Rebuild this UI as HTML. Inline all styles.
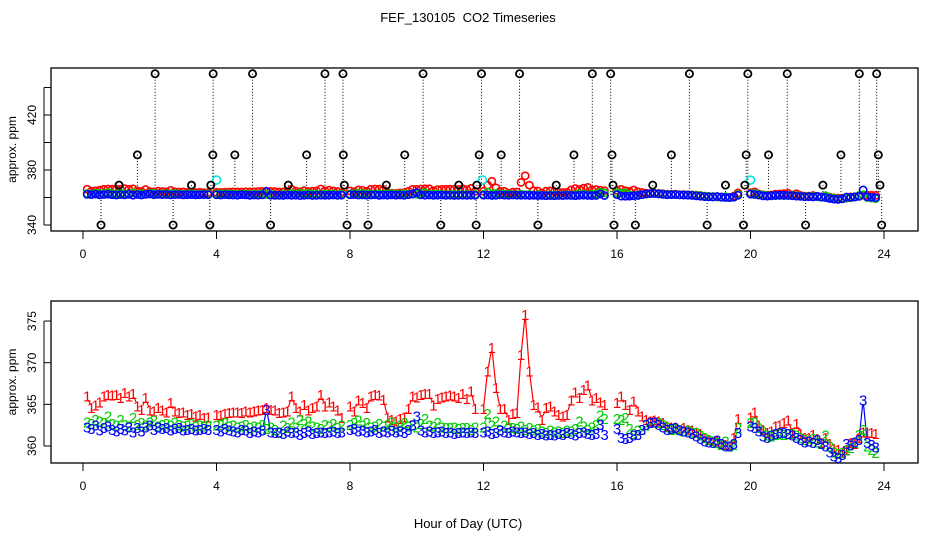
<!DOCTYPE html>
<html><head><meta charset="utf-8">
<style>
html,body{margin:0;padding:0;background:#fff;}
svg{display:block;font-family:"Liberation Sans",Arial,sans-serif;}
</style></head>
<body>
<svg id="chart" width="936" height="540" viewBox="0 0 936 540" xmlns="http://www.w3.org/2000/svg">
<rect width="936" height="540" fill="#fff"/>
<text x="468" y="22" text-anchor="middle" font-size="13">FEF_130105&#160; CO2 Timeseries</text>
<g id="topPanel"></g>
<g id="botPanel"></g>
<text x="468" y="528" text-anchor="middle" font-size="13">Hour of Day (UTC)</text>
</svg>
<script>
// ---- data ----
const segmentStarts = [0.125, 4.0, 8.0, 12.0, 16.0, 20.0];
const hourStep = 0.125;
const redSegments = [
 [366.0,364.6,364.9,365.3,366.0,366.2,366.1,366.2,365.8,366.4,366.0,366.3,364.8,364.4,365.8,364.3,364.2,364.6,364.3,364.1,365.2,364.2,364.0,364.1,363.8,363.9,363.6,363.8,363.4,363.5],
 [363.8,363.7,363.9,364.0,364.1,364.1,364.0,364.2,364.1,364.2,364.3,364.4,364.6,364.4,364.3,364.0,364.1,364.2,366.0,364.6,364.2,365.0,364.3,364.6,364.8,366.2,364.8,365.3,364.8,364.3,363.4],
 [364.8,364.2,365.5,365.2,364.6,366.0,366.2,366.1,365.6,363.5,363.2,363.0,363.3,363.5,364.5,366.0,365.9,366.2,366.3,366.3,364.9,365.7,365.9,366.0,366.1,366.0,365.8,366.3,365.7,366.6,364.5],
 [364.5,369.0,371.8,367.0,364.5,364.5,363.2,363.9,364.0,371.0,375.8,369.0,365.0,364.7,363.2,364.6,364.8,364.2,363.8,363.6,363.8,365.5,366.5,365.8,366.8,367.3,365.5,365.8,365.3,365.0],
 [365.2,366.0,365.0,364.4,365.4,364.2,363.6,363.2,363.0,363.1,363.0,362.8,362.4,362.3,362.3,362.0,362.2,362.0,361.9,361.7,361.5,361.0,360.8,360.6,360.6,360.3,360.2,360.0,361.0,363.3],
 [363.5,364.1,362.5,362.0,361.6,361.8,362.4,362.5,362.8,363.1,361.6,362.7,361.5,361.0,361.0,361.4,360.9,360.4,361.0,360.3,359.7,359.6,359.3,359.6,360.4,360.3,361.0,361.7,361.7,361.6,361.5]
];
const greenSegments = [
 [362.9,362.7,363.2,363.0,362.8,363.6,362.7,362.5,363.2,362.6,362.4,363.4,362.6,362.8,362.5,362.9,363.1,362.4,362.6,362.7,362.5,362.9,362.6,362.4,362.5,362.7,362.4,362.5,362.4,362.5],
 [362.5,362.6,362.8,362.4,362.5,362.3,362.4,362.6,362.2,362.4,362.3,362.6,362.1,362.3,362.0,361.6,362.5,362.2,362.9,362.3,363.2,362.7,363.0,362.4,362.3,362.1,362.6,362.4,362.7,362.2,362.5],
 [362.6,362.8,363.1,362.5,362.8,362.3,362.4,362.7,362.4,362.6,362.9,362.3,362.5,362.8,362.4,362.6,362.3,362.7,363.3,362.5,362.4,362.8,362.3,362.2,362.2,362.3,362.1,362.2,362.2,362.0,362.3],
 [362.3,363.9,362.5,363.0,362.0,362.5,362.3,362.2,362.1,362.4,362.0,362.2,361.9,362.1,361.8,361.6,361.9,361.7,361.8,361.6,361.9,361.8,362.1,363.0,362.4,362.0,362.3,362.6,363.7,363.3],
 [363.3,363.2,363.4,362.1,361.5,361.9,362.0,362.5,362.8,362.9,362.8,362.6,362.3,362.0,362.1,362.0,361.8,361.9,361.7,361.6,361.3,361.0,360.8,360.6,360.4,360.2,360.6,360.0,360.2,362.2],
 [362.8,362.9,362.2,361.8,361.3,361.2,361.4,361.5,361.4,361.5,361.5,361.3,361.0,360.8,360.6,360.9,360.5,360.3,361.3,360.0,359.3,359.1,359.2,359.5,359.8,360.4,361.4,362.0,360.0,359.6,359.2]
];
const blueSegments = [
 [362.3,362.1,362.5,361.9,362.2,362.4,362.0,361.8,362.1,361.9,362.3,361.7,362.2,361.8,362.3,362.5,362.0,362.3,362.1,362.2,361.9,362.1,362.2,361.9,362.0,362.1,361.9,362.0,362.1,362.0],
 [362.0,361.8,362.1,361.9,361.8,361.7,362.0,361.9,361.6,361.8,361.7,361.9,364.4,361.7,361.6,361.7,361.5,361.8,361.6,361.7,361.4,361.6,361.8,361.5,361.6,361.7,361.6,361.7,361.8,361.6,361.7],
 [362.0,362.1,361.8,361.9,361.7,361.8,362.0,361.6,361.8,361.7,361.9,361.7,361.8,361.6,362.0,362.5,363.6,361.9,361.7,361.8,361.6,361.7,361.8,361.6,361.7,361.5,361.6,361.7,361.6,361.7,361.6],
 [361.7,361.8,361.5,361.6,361.9,361.7,361.6,361.8,361.7,361.6,361.7,361.5,361.6,361.4,361.5,361.3,361.4,361.3,361.5,361.4,361.6,361.5,361.3,361.6,361.7,361.5,361.4,361.5,362.6,361.4],
 [362.1,361.0,360.9,361.0,361.3,361.4,362.0,362.6,362.8,362.9,362.6,362.3,362.0,362.1,362.2,361.9,361.8,361.7,361.5,361.2,360.9,360.6,360.5,360.4,360.7,360.3,360.0,360.0,360.3,361.6],
 [362.4,362.2,361.8,361.2,361.0,361.3,361.5,361.6,361.6,361.5,361.3,361.0,360.8,360.5,360.6,360.4,360.8,360.3,360.0,359.3,358.8,358.6,359.0,360.3,360.1,360.5,360.8,365.5,360.4,360.2,359.9]
];
const cyanHours = [4.0, 11.97, 20.0];
const cyanValues = [372.7, 372.7, 372.7];
const extremeHours = [2.16,3.90,5.08,7.25,7.79,10.19,11.94,13.08,15.26,15.81,18.17,19.92,21.10,23.26,23.78,
 1.63,3.89,4.55,6.70,7.80,9.64,11.87,12.53,14.71,15.85,17.63,19.87,20.54,22.71,23.83,
 1.08,3.25,3.83,6.15,7.83,9.09,11.26,11.80,14.18,15.88,17.07,19.25,19.83,22.17,23.88,
 0.54,2.70,3.80,5.62,7.91,8.54,10.72,11.78,13.63,15.91,16.55,18.70,19.79,21.65,23.93];
const extremeValues = [450,450,450,450,450,450,450,450,450,450,450,450,450,450,450,
 391,391,391,391,391,391,391,391,391,391,391,391,391,391,391,
 369,369,369,369,369,369,369,369,369,369,369,369,369,369,369,
 340,340,340,340,340,340,340,340,340,340,340,340,340,340,340];
const xTicks = [0,4,8,12,16,20,24];
const topYTicks = [340,360,380,400,420,440];
const topYLabels = [340,380,420];
const botYTicks = [360,365,370,375];

// ---- scales ----
const NS = "http://www.w3.org/2000/svg";
const xS = h => 83 + h * 33.375;
const yTop = v => 225 - (v - 340) * 1.375;
const yBot = v => 446 - (v - 360) * 8.33;
function el(tag, attrs, parent){const e=document.createElementNS(NS,tag);for(const k in attrs)e.setAttribute(k,attrs[k]);parent.appendChild(e);return e;}

const topG = document.getElementById('topPanel');
const botG = document.getElementById('botPanel');

function axes(g, y0, y1, yTicks, yLabels, yFn, name){
  const box = el('rect',{x:51,y:y0,width:867,height:y1-y0,fill:'none',stroke:'#000','stroke-width':1.3},g);
  
  
  const xl = el('line',{x1:xS(0),x2:xS(24),y1:y1,y2:y1,stroke:'#000'},g);
  
  
  xTicks.forEach(t=>{
    const tk = el('line',{x1:xS(t),x2:xS(t),y1:y1,y2:y1+8,stroke:'#000'},g);
    
    
    const tx = el('text',{x:xS(t),y:y1+27,'text-anchor':'middle','font-size':12},g);
    tx.textContent = t;
    
    
  });
  const yl = el('line',{x1:44,x2:44,y1:yFn(yTicks[0]),y2:yFn(yTicks[yTicks.length-1]),stroke:'#000'},g);
  
  
  yTicks.forEach(t=>{
    const tk = el('line',{x1:44,x2:51,y1:yFn(t),y2:yFn(t),stroke:'#000'},g);
    
    
  });
  yLabels.forEach(t=>{
    const tx = el('text',{x:0,y:0,'text-anchor':'middle','font-size':12,transform:`translate(36,${yFn(t)}) rotate(-90)`},g);
    tx.textContent = t;
    
    
  });
  const at = el('text',{x:0,y:0,'text-anchor':'middle','font-size':12,transform:`translate(16,${(y0+y1)/2}) rotate(-90)`},g);
  at.textContent = 'approx. ppm';
  
  
}
axes(topG, 68, 231, topYTicks, topYLabels, yTop, 'top');
axes(botG, 301, 463, botYTicks, botYTicks, yBot, 'bottom');

// ---- top panel ----
extremeHours.forEach((h,i)=>{
  const ln = el('line',{x1:xS(h),x2:xS(h),y1:yTop(extremeValues[i]),y2:yTop(362),stroke:'#000','stroke-width':1,'stroke-dasharray':'1,2'},topG);
  
  
});
const series = [[redSegments,'#ff0000','1','red'],[greenSegments,'#00cc00','2','green'],[blueSegments,'#0000ff','3','blue']];
series.forEach(([segs,col,ch,nm])=>{
  segs.forEach((vals,s)=>{
    vals.forEach((v,i)=>{
      const h = segmentStarts[s] + i*hourStep;
      const c = el('circle',{cx:xS(h),cy:yTop(v),r:3.6,fill:'none',stroke:col,'stroke-width':1.6},topG);
      
      
    });
  });
});
cyanHours.forEach((h,i)=>{
  const c = el('circle',{cx:xS(h),cy:yTop(cyanValues[i]),r:4,fill:'none',stroke:'#00e5e5','stroke-width':1.6},topG);
  
  
});
extremeHours.forEach((h,i)=>{
  const c = el('circle',{cx:xS(h),cy:yTop(extremeValues[i]),r:3.6,fill:'none',stroke:'#000','stroke-width':1.8},topG);
  
  
});

// ---- bottom panel: type="b" style gapped segments ----
const GAP = 4;
series.forEach(([segs,col,ch,nm])=>{
  segs.forEach((vals,s)=>{
    let d = '';
    for(let i=1;i<vals.length;i++){
      const x0=xS(segmentStarts[s]+(i-1)*hourStep), y0=yBot(vals[i-1]);
      const x1=xS(segmentStarts[s]+i*hourStep), y1=yBot(vals[i]);
      const dx=x1-x0, dy=y1-y0, L=Math.hypot(dx,dy);
      if(L<=2*GAP) continue;
      const ux=dx/L, uy=dy/L;
      d += `M${(x0+ux*GAP).toFixed(1)},${(y0+uy*GAP).toFixed(1)}L${(x1-ux*GAP).toFixed(1)},${(y1-uy*GAP).toFixed(1)}`;
    }
    const p = el('path',{d:d,fill:'none',stroke:col,'stroke-width':1.2},botG);
    
    
  });
});
series.forEach(([segs,col,ch,nm])=>{
  segs.forEach((vals,s)=>{
    vals.forEach((v,i)=>{
      const h = segmentStarts[s] + i*hourStep;
      const t = el('text',{x:xS(h),y:yBot(v)+5.5,'text-anchor':'middle','font-size':15,fill:col},botG);
      t.textContent = ch;
      
      
    });
  });
});
</script>
</body></html>
